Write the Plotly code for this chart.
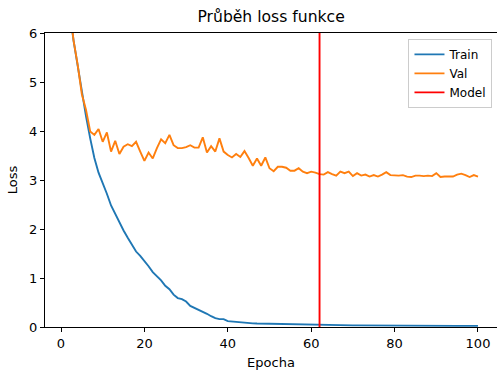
import plotly.graph_objects as go

epochs = list(range(1, 101))
train_loss = [
    8.0, 6.5, 5.85, 5.3, 4.75, 4.3, 3.85, 3.45, 3.15, 2.95,
    2.72, 2.48, 2.3, 2.14, 1.97, 1.82, 1.68, 1.54, 1.45, 1.35,
    1.24, 1.12, 1.04, 0.95, 0.84, 0.77, 0.66, 0.59, 0.57, 0.52,
    0.43, 0.39, 0.36, 0.31, 0.27, 0.22, 0.18, 0.16, 0.16, 0.12,
    0.11, 0.10, 0.09, 0.085, 0.08, 0.075, 0.07, 0.068, 0.065, 0.06,
    0.058, 0.056, 0.055, 0.053, 0.05, 0.048, 0.047, 0.046, 0.045, 0.044,
    0.043, 0.042, 0.04, 0.04, 0.038, 0.037, 0.036, 0.035, 0.034, 0.033,
    0.033, 0.032, 0.032, 0.031, 0.031, 0.03, 0.03, 0.029, 0.029, 0.028,
    0.028, 0.028, 0.027, 0.027, 0.027, 0.026, 0.026, 0.026, 0.025, 0.025,
    0.025, 0.024, 0.024, 0.024, 0.023, 0.023, 0.023, 0.022, 0.022, 0.022,
]
val_loss = [
    8.2, 6.6, 5.85, 5.35, 4.75, 4.43, 3.99, 3.92, 4.04, 3.78,
    3.97, 3.58, 3.80, 3.53, 3.68, 3.73, 3.69, 3.78, 3.58, 3.39,
    3.56, 3.44, 3.65, 3.83, 3.75, 3.92, 3.71, 3.65, 3.65, 3.67,
    3.71, 3.66, 3.66, 3.87, 3.56, 3.69, 3.58, 3.85, 3.58, 3.51,
    3.46, 3.53, 3.47, 3.59, 3.45, 3.29, 3.44, 3.29, 3.46, 3.24,
    3.18, 3.27, 3.27, 3.25, 3.19, 3.19, 3.24, 3.17, 3.14, 3.17,
    3.15, 3.12, 3.11, 3.16, 3.12, 3.09, 3.17, 3.14, 3.17, 3.08,
    3.14, 3.09, 3.11, 3.07, 3.10, 3.07, 3.11, 3.16, 3.10, 3.09,
    3.09, 3.10, 3.07, 3.06, 3.09, 3.09, 3.08, 3.09, 3.08, 3.14,
    3.06, 3.07, 3.07, 3.07, 3.11, 3.13, 3.10, 3.06, 3.10, 3.07,
]
model_epoch = 62
y_limits = [0, 6]
x_ticks = [0, 20, 40, 60, 80, 100]
y_ticks = [0, 1, 2, 3, 4, 5, 6]

FONT = "DejaVu Sans"

fig = go.Figure()
fig.add_trace(go.Scatter(x=epochs, y=train_loss, mode="lines", name="Train",
                         line=dict(color="#1f77b4", width=1.9)))
fig.add_trace(go.Scatter(x=epochs, y=val_loss, mode="lines", name="Val",
                         line=dict(color="#ff7f0e", width=1.9)))
fig.add_trace(go.Scatter(x=[model_epoch, model_epoch], y=y_limits, mode="lines", name="Model",
                         line=dict(color="red", width=1.9)))

fig.update_layout(
    width=497, height=371,
    margin=dict(l=45, r=0, t=33, b=44),
    paper_bgcolor="white", plot_bgcolor="white",
    font=dict(family=FONT, size=13, color="black"),
    title=dict(text="Průběh loss funkce", x=0.5455, xanchor="center", y=0.955, yanchor="middle",
               font=dict(family=FONT, size=15.6, color="black")),
    showlegend=True,
    legend=dict(x=0.99, xanchor="right", y=0.98, yanchor="top",
                bordercolor="#cccccc", borderwidth=1, bgcolor="rgba(255,255,255,0.8)",
                font=dict(family=FONT, size=12)),
    xaxis=dict(range=[-3.84, 104.56], tickvals=x_ticks, showgrid=False, zeroline=False,
               showline=True, linecolor="black", linewidth=1, mirror=True,
               ticks="outside", ticklen=4, tickwidth=1, tickcolor="black",
               title=dict(text="Epocha", standoff=8, font=dict(size=13))),
    yaxis=dict(range=y_limits, tickvals=y_ticks, showgrid=False, zeroline=False,
               showline=True, linecolor="black", linewidth=1, mirror=False,
               ticks="outside", ticklen=4, tickwidth=1, tickcolor="black",
               title=dict(text="Loss", standoff=8, font=dict(size=13))),
)

fig.write_html("out.html")
